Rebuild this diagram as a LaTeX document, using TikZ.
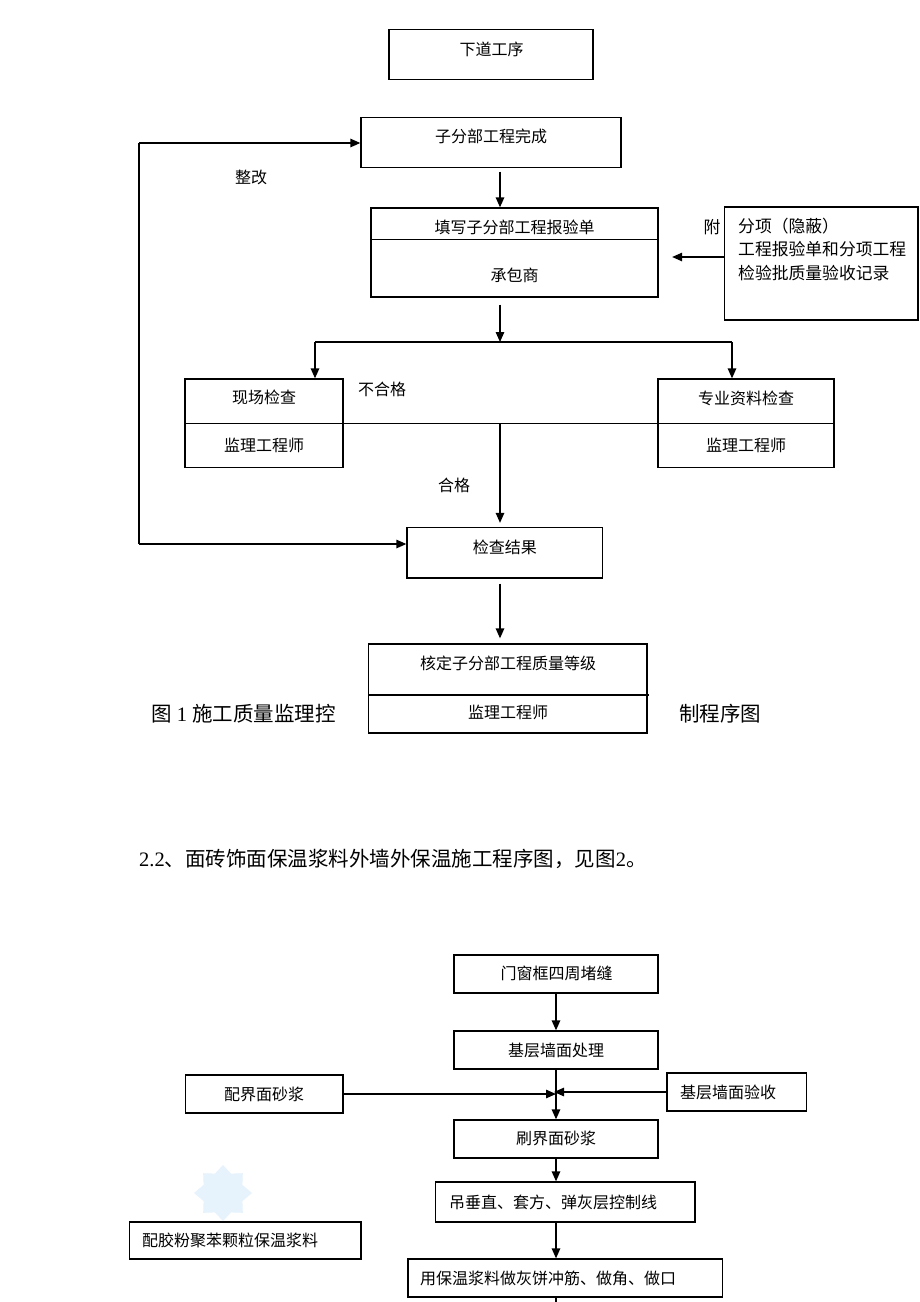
\documentclass[tikz,border=0pt]{standalone}
\usepackage{fontspec}
\setmainfont{Liberation Serif}
\newfontfamily\cjk{Noto Sans CJK SC}
\usetikzlibrary{arrows.meta}
\definecolor{wmcol}{RGB}{230,242,252}
\begin{document}
\begin{tikzpicture}[x=1pt,y=-1pt,
  box/.style={draw, line width=1.3pt, inner sep=0pt, rectangle},
  txt/.style={font=\cjk\fontsize{16}{18}\selectfont, inner sep=0pt},
  txtb/.style={font=\cjk\fontsize{16.8}{19}\selectfont, inner sep=0pt},
  big/.style={font=\fontsize{20.5}{24}\selectfont, inner sep=0pt},
  ln/.style={line width=1.3pt},
  arr/.style={line width=1.3pt, -{Triangle[length=10pt,width=8.5pt]}}]
\fill[white] (0,0) rectangle (920,1302);
\useasboundingbox (0,0) rectangle (920,1302);

% ---------- figure 1 ----------
\coordinate (colx) at (500,0);
\node[box, minimum width=204pt, minimum height=50pt] (A) at (491,54.5) {};
\node[txt] (tA) at (491.5,49) {下道工序};

\node[box, minimum width=260pt, minimum height=50pt] (B) at (491,142.5) {};
\node[txt] (tB) at (491,136) {子分部工程完成};

\node[box, minimum width=287pt, minimum height=89pt] (C) at (514.5,252.5) {};
\coordinate (cdiv) at (371,239.5);
\draw[ln] (cdiv) -- (cdiv -| C.east);
\node[txt] (tC1) at (514.5,227) {填写子分部工程报验单};
\node[txt] (tC2) at (514.5,275) {承包商};

\node[box, minimum width=193.5pt, minimum height=113pt] (R) at (821.25,263.5) {};
\node[txtb] (fu) at (712,227) {附};
\node[txtb, anchor=west] (tR1) at (738,226) {分项（隐蔽）};
\node[txtb, anchor=west] (tR2) at (738,249) {工程报验单和分项工程};
\node[txtb, anchor=west] (tR3) at (738,273) {检验批质量验收记录};
\coordinate (ra) at (724.5,257);
\draw[arr, shorten >=13.5pt] (ra) -- (ra -| C.east);

\draw[arr, shorten <=3.5pt] (B.south -| colx) -- (C.north -| colx);

\coordinate (sp) at (500,342);
\coordinate (splL) at (315,342);
\coordinate (splR) at (732,342);
\draw[arr, shorten <=7pt] (C.south -| colx) -- (sp);
\draw[ln] (splL) -- (splR);

\node[box, minimum width=158pt, minimum height=88.5pt] (L) at (264,423.25) {};
\node[box, minimum width=176pt, minimum height=88.5pt] (Rt) at (746,423.25) {};
\draw[arr] (splL) -- (splL |- L.north);
\draw[arr] (splR) -- (splR |- Rt.north);
\coordinate (hdiv) at (185,423.5);
\draw[ln] (hdiv) -- (hdiv -| Rt.east);
\node[txt] (tL1) at (264,397) {现场检查};
\node[txt] (tL2) at (264,445) {监理工程师};
\node[txt] (tRt1) at (746,398) {专业资料检查};
\node[txt] (tRt2) at (746,445) {监理工程师};
\node[txt] (bhg) at (382,389) {不合格};
\node[txt] (zg) at (251,177) {整改};
\node[txt] (hg) at (454,485) {合格};

\node[box, minimum width=195.5pt, minimum height=50.5pt] (D) at (504.75,552.75) {};
\node[txt] (tD) at (504.75,547) {检查结果};
\coordinate (hd) at (500,423.5);
\draw[arr, shorten >=4pt] (hd) -- (D.north -| colx);

\coordinate (fbTop) at (139,143);
\coordinate (fbBot) at (139,544);
\draw[ln] (fbTop) -- (fbBot);
\draw[arr] (fbTop) -- (B.west |- fbTop);
\draw[arr] (fbBot) -- (D.west |- fbBot);

\node[box, minimum width=278.5pt, minimum height=89pt] (E) at (507.75,688.5) {};
\coordinate (ediv) at (368.5,695);
\coordinate (edivR) at (649,695);
\draw[ln] (ediv) -- (edivR);
\node[txt] (tE1) at (508,663) {核定子分部工程质量等级};
\node[txt] (tE2) at (508,712) {监理工程师};
\draw[arr, shorten <=5pt, shorten >=5pt] (D.south -| colx) -- (E.north -| colx);

\node[big, anchor=west] (capL) at (151,714) {{\cjk 图} 1 {\cjk 施工质量监理控}};
\node[big, anchor=west] (capR) at (679,714) {\cjk 制程序图};

\node[big, anchor=west] (head) at (139,859) {2.2{\cjk 、面砖饰面保温浆料外墙外保温施工程序图，见图}2{\cjk 。}};

% ---------- figure 2 ----------
\coordinate (colx2) at (556,0);
\node[box, minimum width=204pt, minimum height=38pt] (F) at (556,974) {};
\node[txt] (tF) at (556.5,973) {门窗框四周堵缝};
\node[box, minimum width=204pt, minimum height=38pt] (G) at (556,1050) {};
\node[txt] (tG) at (556,1050) {基层墙面处理};
\node[box, minimum width=157.4pt, minimum height=38pt] (H) at (264.3,1094) {};
\node[txt] (tH) at (264,1094) {配界面砂浆};
\node[box, minimum width=139.6pt, minimum height=38pt] (I) at (736.8,1092) {};
\node[txt, anchor=west] (tI) at (680,1092) {基层墙面验收};
\node[box, minimum width=204pt, minimum height=38pt] (J) at (556,1139) {};
\node[txt] (tJ) at (556,1138) {刷界面砂浆};
\node[box, minimum width=259.4pt, minimum height=40pt] (K) at (565.3,1202) {};
\node[txt, anchor=west] (tK) at (449,1202) {吊垂直、套方、弹灰层控制线};
\node[box, minimum width=231.2pt, minimum height=37pt] (M) at (245.4,1240.5) {};
\node[txt, anchor=west] (tM) at (142,1240) {配胶粉聚苯颗粒保温浆料};
\node[box, minimum width=314.7pt, minimum height=38pt] (N) at (565.35,1278) {};
\node[txt, anchor=west] (tN) at (420,1278) {用保温浆料做灰饼冲筋、做角、做口};

\draw[arr] (F.south -| colx2) -- (G.north -| colx2);
\draw[arr] (G.south -| colx2) -- (J.north -| colx2);
\draw[arr] (H.east) -- (H.east -| colx2);
\draw[arr, shorten >=-2pt] (I.west) -- (I.west -| colx2);
\draw[arr] (J.south -| colx2) -- (K.north -| colx2);
\draw[arr] (K.south -| colx2) -- (N.north -| colx2);
\coordinate (endc) at (556,1302);
\draw[ln] (N.south -| colx2) -- (endc);

% faint watermark
\fill[wmcol, shift={(223,1193)}] (90:28) -- (112.5:21) -- (135:28) -- (157.5:21) -- (180:29) -- (202.5:21) -- (225:28) -- (247.5:21) -- (270:28) -- (292.5:21) -- (315:28) -- (337.5:21) -- (0:29) -- (22.5:21) -- (45:28) -- (67.5:21) -- cycle;
\end{tikzpicture}
\end{document}
